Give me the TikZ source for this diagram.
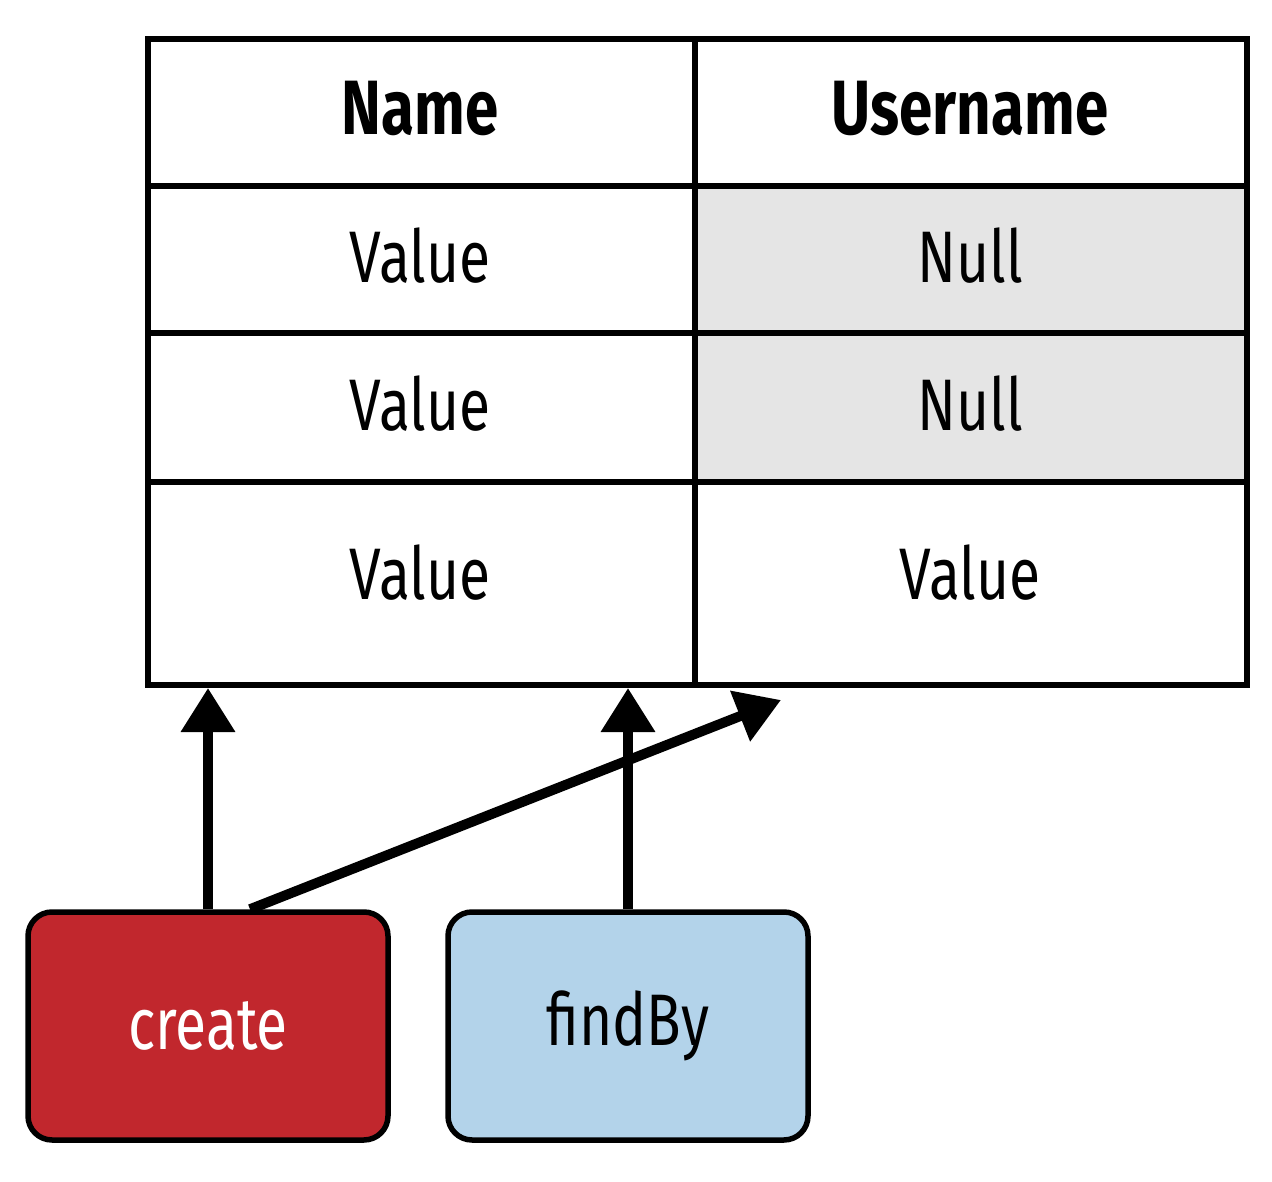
\documentclass[tikz,border=0pt]{standalone}
\usepackage{fontspec}
\setmainfont{Fira Sans}[FakeStretch=0.78]
\usetikzlibrary{arrows.meta}
\definecolor{createred}{HTML}{C1272D}
\definecolor{findblue}{HTML}{B3D3EA}
\definecolor{nullgray}{HTML}{E5E5E5}
\begin{document}
\begin{tikzpicture}[x=1pt,y=-1pt,
  cell/.style={draw=black, line width=6pt, inner sep=0pt, anchor=north west},
  celltext/.style={font=\fontsize{73}{80}\selectfont},
  headtext/.style={font=\fontsize{77}{84}\selectfont\bfseries},
  opbox/.style={draw=black, line width=5.5pt, rounded corners=24pt, inner sep=0pt,
    minimum width=360pt, minimum height=228pt, font=\fontsize{73}{80}\selectfont},
  link/.style={line width=10pt, -{Triangle[length=44pt,width=52pt]}}]
\useasboundingbox (0,0) rectangle (1272,1182);
% table cells
\node[cell, minimum width=547pt, minimum height=147pt] (h1) at (145,36) {};
\node[cell, minimum width=552pt, minimum height=147pt] (h2) at (692,36) {};
\node[cell, minimum width=547pt, minimum height=147pt] (a1) at (145,183) {};
\node[cell, fill=nullgray, minimum width=552pt, minimum height=147pt] (a2) at (692,183) {};
\node[cell, minimum width=547pt, minimum height=149pt] (b1) at (145,330) {};
\node[cell, fill=nullgray, minimum width=552pt, minimum height=149pt] (b2) at (692,330) {};
\node[cell, minimum width=547pt, minimum height=203pt] (c1) at (145,479) {};
\node[cell, minimum width=552pt, minimum height=203pt] (c2) at (692,479) {};
% cell texts
\node[headtext] (th1) at (420,108) {Name};
\node[headtext] (th2) at (970,108) {Username};
\node[celltext] (ta1) at (420,256) {Value};
\node[celltext] (ta2) at (970,256) {Null};
\node[celltext] (tb1) at (420,404) {Value};
\node[celltext] (tb2) at (970,404) {Null};
\node[celltext] (tc1) at (420,573) {Value};
\node[celltext] (tc2) at (970,573) {Value};
% operations
\node[opbox, fill=createred, text=white] (create) at (208,1026) {create};
\node[opbox, fill=findblue] (findby) at (628,1026) {findBy};
% connectors
\coordinate (diagtip) at (781,700);
\draw[link] (create.north) -- (create.north |- c1.south);
\draw[link] (findby.north) -- (findby.north |- c1.south);
\draw[link] ([xshift=42pt]create.north) -- (diagtip);
\end{tikzpicture}
\end{document}
